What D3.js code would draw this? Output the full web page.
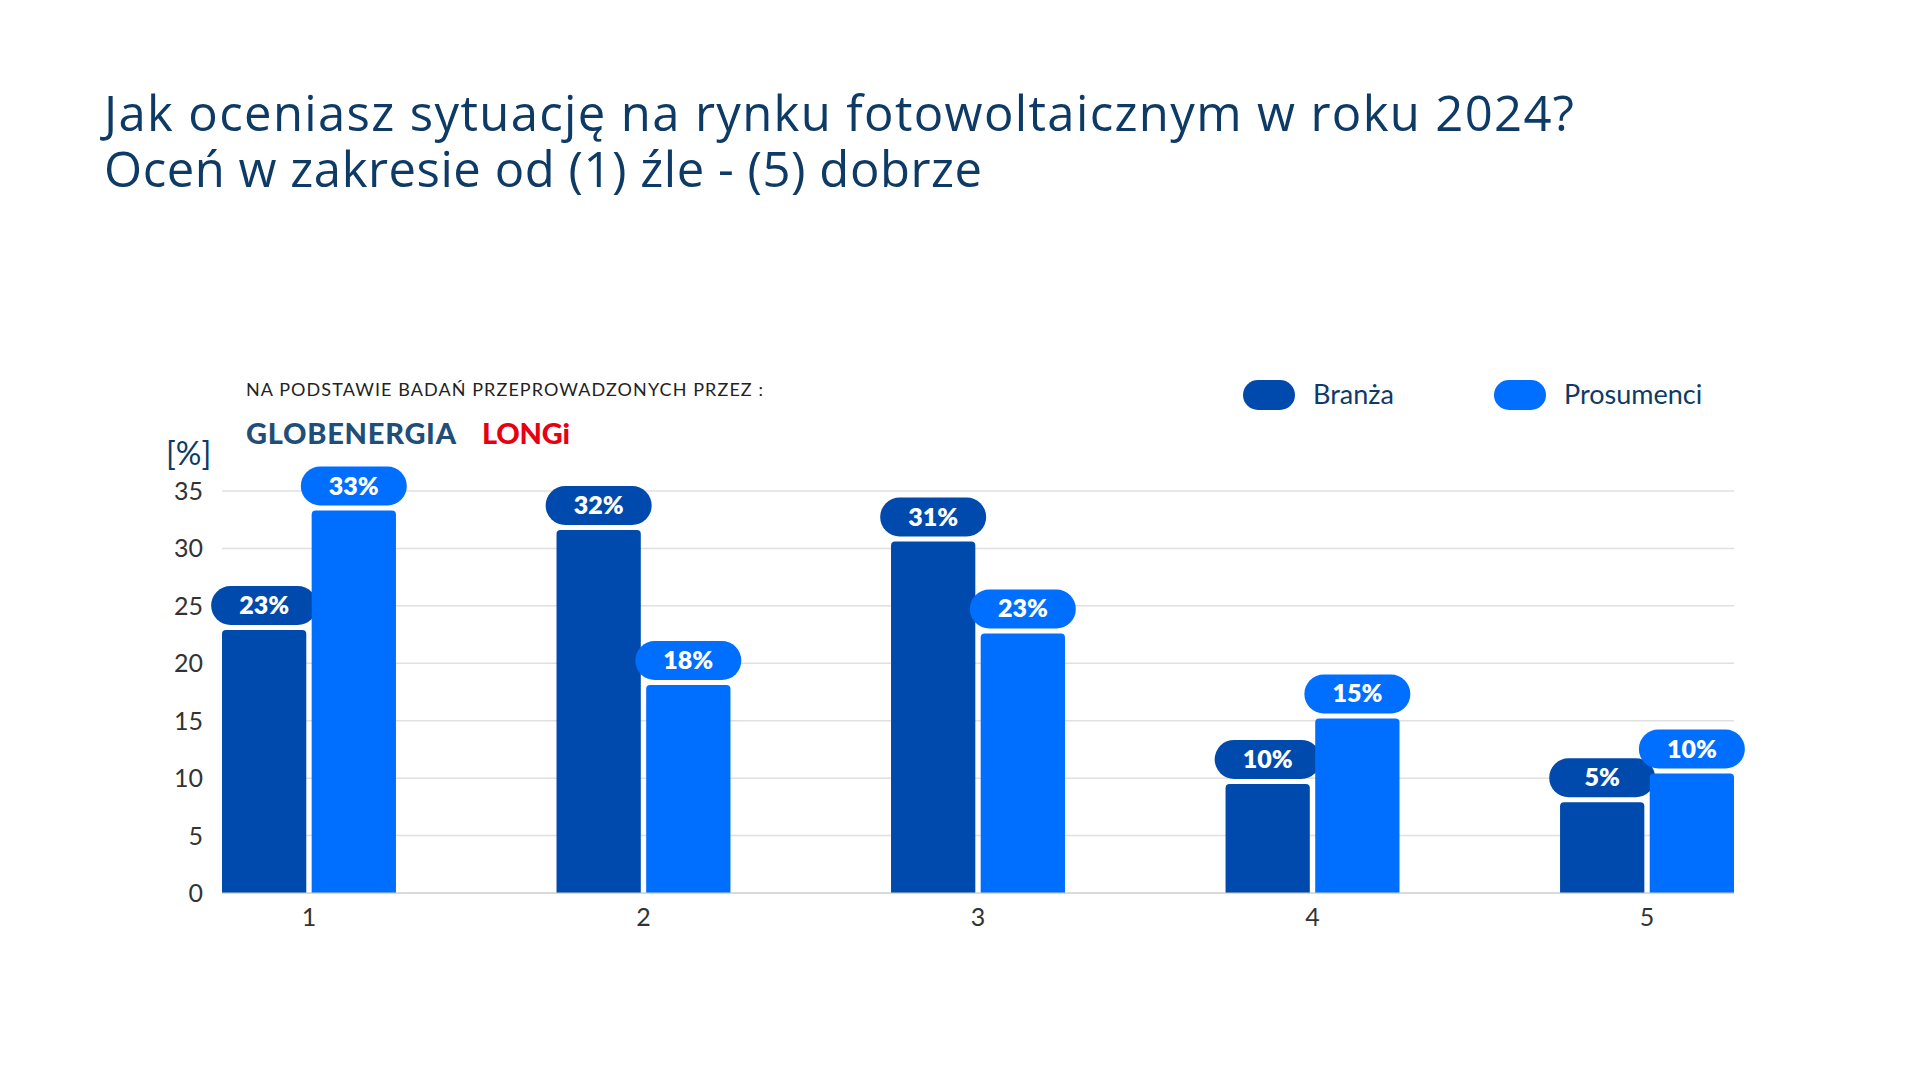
<!DOCTYPE html>
<html><head><meta charset="utf-8">
<script src="https://cdn.jsdelivr.net/npm/d3@7"></script>
<style>body{margin:0;background:#fff;font-family:Lato,"Open Sans",sans-serif}</style>
</head><body><svg id="c" width="1920" height="1080"></svg>
<script>
const categories = ["1","2","3","4","5"];
const seriesNames = ["Branża","Prosumenci"];
const branza = [22.9, 31.6, 30.6, 9.5, 7.9];
const prosumenci = [33.3, 18.1, 22.6, 15.2, 10.4];
const branzaLabels = ["23%","32%","31%","10%","5%"];
const prosumenciLabels = ["33%","18%","23%","15%","10%"];
const yTicks = [0,5,10,15,20,25,30,35];
const colors = ["#004AAD","#006EFF"];

const svg = d3.select("#c");
const ink = "#0d3b66";
svg.append("text").attr("x",104).attr("y",131).attr("font-size",49).attr("fill",ink).attr("font-family","Open Sans").attr("textLength",1470).text("Jak oceniasz sytuację na rynku fotowoltaicznym w roku 2024?");
svg.append("text").attr("x",104).attr("y",187).attr("font-size",49).attr("fill",ink).attr("font-family","Open Sans").attr("textLength",878).text("Oceń w zakresie od (1) źle - (5) dobrze");

const x = d3.scaleBand().domain(categories).range([222,1734]).paddingInner(0.48).paddingOuter(0);
const xs = d3.scaleBand().domain(seriesNames).range([0,x.bandwidth()]).paddingInner(0.06);
const y = d3.scaleLinear().domain([0,35]).range([893,491]);

svg.append("g").selectAll("line").data(yTicks).join("line")
  .attr("x1",222).attr("x2",1734).attr("y1",d=>y(d)).attr("y2",d=>y(d))
  .attr("stroke","#e0e0e0").attr("stroke-width",1.5);
svg.append("g").selectAll("text").data(yTicks).join("text")
  .attr("x",203).attr("y",d=>y(d)+9).attr("text-anchor","end").attr("font-size",25).attr("fill","#333").text(d=>d);
svg.append("text").attr("x",166).attr("y",465).attr("font-size",32).attr("fill",ink).text("[%]");

const series = [branza, prosumenci];
const labels = [branzaLabels, prosumenciLabels];
series.forEach((vals,si)=>{
  const g = svg.append("g");
  g.selectAll("path").data(vals).join("path").attr("fill",colors[si])
    .attr("d",(d,i)=>{
      const x0 = x(categories[i])+xs(seriesNames[si]), w = xs.bandwidth(), t=y(d), b=y(0), r=4;
      return `M${x0},${b}V${t+r}Q${x0},${t} ${x0+r},${t}H${x0+w-r}Q${x0+w},${t} ${x0+w},${t+r}V${b}Z`;
    });
  vals.forEach((d,i)=>{
    const cx = x(categories[i])+xs(seriesNames[si])+xs.bandwidth()/2, t=y(d);
    g.append("rect").attr("x",cx-53).attr("y",t-44).attr("width",106).attr("height",39).attr("rx",19.5).attr("fill",colors[si]);
    g.append("text").attr("x",cx).attr("y",t-16).attr("text-anchor","middle").attr("font-size",25).attr("font-weight",800).attr("fill","#fff").text(labels[si][i]);
  });
});
svg.append("line").attr("x1",222).attr("x2",1734).attr("y1",y(0)).attr("y2",y(0)).attr("stroke","#ccc");
svg.append("g").selectAll("text").data(categories).join("text")
  .attr("x",d=>x(d)+x.bandwidth()/2).attr("y",926).attr("text-anchor","middle").attr("font-size",25).attr("fill","#333").text(d=>d);

const lx=[1243,1494];
seriesNames.forEach((n,i)=>{
  svg.append("rect").attr("x",lx[i]).attr("y",380).attr("width",52).attr("height",30).attr("rx",15).attr("fill",colors[i]);
  svg.append("text").attr("x",lx[i]+70).attr("y",404).attr("font-size",27).attr("fill",ink).text(n);
});
svg.append("text").attr("x",246).attr("y",396).attr("font-size",18).attr("fill","#222").attr("textLength",517).text("NA PODSTAWIE BADAŃ PRZEPROWADZONYCH PRZEZ :");
svg.append("text").attr("x",246).attr("y",444).attr("font-size",29).attr("font-weight",900).attr("fill","#1f4e79").attr("font-family","Lato").attr("textLength",210).text("GLOBENERGIA");
svg.append("text").attr("x",482).attr("y",444).attr("font-size",29).attr("font-weight",900).attr("fill","#e60012").attr("font-family","Lato").attr("textLength",88).text("LONGi");
</script></body></html>
